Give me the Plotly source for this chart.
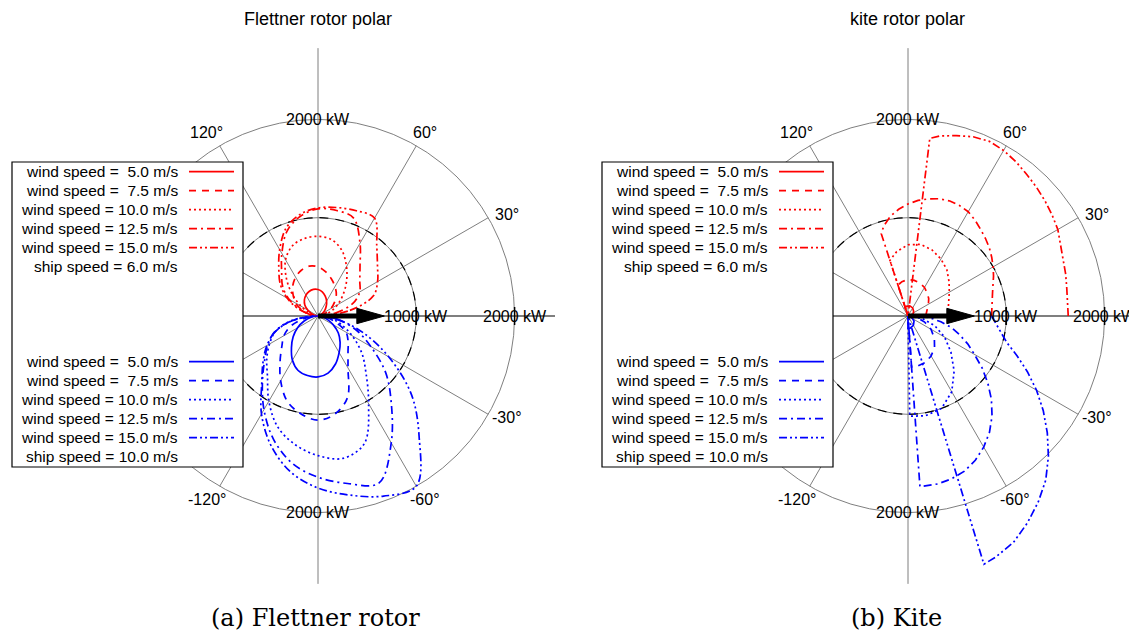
import numpy as np
import plotly.graph_objects as go

# ---------------- data (angle in degrees, power in kW) ----------------
ANG_UP = list(range(0, 181, 10))      # ship speed 6.0 m/s (upper half)
ANG_DN = list(range(0, -181, -10))    # ship speed 10.0 m/s (lower half)

WIND = ["5.0", "7.5", "10.0", "12.5", "15.0"]

# Flettner rotor, ship speed 6.0 m/s
fl6_w5 = [0, 5, 20, 50, 90, 130, 175, 215, 250, 270, 275, 265, 245, 215, 175, 120, 70, 30, 0]
fl6_w75 = [0, 30, 80, 150, 220, 290, 345, 400, 455, 500, 515, 495, 455, 400, 330, 260, 170, 80, 0]
fl6_w10 = [0, 60, 140, 230, 330, 450, 580, 710, 790, 810, 800, 760, 660, 500, 340, 200, 100, 30, 0]
fl6_w125 = [0, 180, 380, 490, 555, 665, 855, 1060, 1090, 1090, 1030, 920, 735, 575, 470, 340, 190, 70, 0]
fl6_w15 = [0, 330, 600, 700, 790, 930, 1150, 1140, 1120, 1100, 1050, 950, 780, 620, 500, 360, 210, 80, 0]

# Flettner rotor, ship speed 10.0 m/s
fl10_w5 = [0, 40, 100, 180, 270, 350, 430, 520, 590, 620, 615, 590, 520, 420, 330, 240, 150, 70, 0]
fl10_w75 = [0, 90, 200, 330, 400, 475, 610, 880, 1010, 1060, 1010, 920, 760, 600, 480, 400, 290, 140, 0]
fl10_w10 = [0, 130, 250, 400, 580, 760, 1030, 1380, 1470, 1420, 1330, 1200, 1000, 800, 680, 570, 460, 280, 0]
fl10_w125 = [0, 200, 410, 620, 900, 1160, 1490, 1810, 1730, 1640, 1520, 1330, 1100, 880, 710, 590, 470, 260, 0]
fl10_w15 = [0, 200, 480, 830, 1240, 1600, 2000, 1950, 1850, 1750, 1610, 1400, 1150, 890, 730, 600, 460, 260, 0]

# Kite, ship speed 6.0 m/s
k6_w5_ang = [0, 20, 40, 60, 80, 100, 108, 108]
k6_w5 = [40, 55, 75, 95, 105, 100, 90, 0]
k6_w75_ang = [0, 10, 20, 30, 40, 50, 60, 70, 80, 90, 100, 108, 108]
k6_w75 = [180, 190, 210, 240, 275, 305, 335, 355, 368, 372, 355, 330, 0]
k6_w10_ang = [0, 10, 20, 30, 40, 50, 60, 70, 80, 90, 100, 108, 108]
k6_w10 = [405, 415, 440, 485, 545, 615, 670, 715, 740, 725, 665, 595, 0]
k6_w125_ang = list(range(0, 106, 5)) + [108, 108]
k6_w125 = [850, 855, 865, 890, 920, 960, 1000, 1040, 1080, 1115, 1150, 1190, 1225, 1240,
           1245, 1235, 1210, 1180, 1140, 1090, 1030, 950, 880, 0]
k6_w15_ang = list(range(0, 81, 5)) + [83, 83]
k6_w15 = [1630, 1630, 1640, 1660, 1680, 1710, 1760, 1790, 1820, 1850, 1880, 1915, 1945,
          1960, 1940, 1900, 1860, 1820, 0]

# Kite, ship speed 10.0 m/s
k10_w5_ang = [0, -20, -40, -60, -80, -90, -90]
k10_w5 = [0, 40, 80, 110, 125, 125, 0]
k10_w75_ang = [0, -10, -20, -30, -40, -50, -60, -70, -80, -86, -86]
k10_w75 = [0, 90, 180, 270, 350, 420, 470, 505, 520, 520, 0]
k10_w10_ang = [0, -10, -20, -30, -40, -50, -60, -70, -80, -89, -89]
k10_w10 = [0, 150, 290, 430, 570, 730, 890, 1000, 1030, 1020, 0]
k10_w125_ang = list(range(0, -81, -5)) + [-86, -86]
k10_w125 = [120, 230, 340, 460, 560, 670, 780, 920, 1060, 1200, 1330, 1445, 1540, 1620,
            1680, 1715, 1735, 1740, 0]
k10_w15_ang = list(range(0, -71, -5)) + [-73, -73]
k10_w15 = [850, 900, 960, 1040, 1180, 1340, 1510, 1680, 1850, 2020, 2180, 2310, 2430, 2540,
           2610, 2640, 0]

SHIP = ["6.0", "10.0"]
TITLES = ["Flettner rotor polar", "kite rotor polar"]
CAPTIONS = ["(a) Flettner rotor", "(b) Kite"]
ANGLE_LABELS = [30, 60, 120, -30, -60, -120]

# ---------------- layout constants ----------------
# the page body has an 8 px default margin, so the figure is drawn 8 px smaller
PAGE_W, PAGE_H = 1137, 632
OFF = 8
W, H = PAGE_W - OFF, PAGE_H - OFF
S = 0.0983                    # px per kW
CX = [318 - OFF, 908 - OFF]   # polar centres (figure px)
CY = 316 - OFF
DOM = [(0.0, 0.5), (0.5, 1.0)]
RED, BLUE = "#ff0000", "#0000ff"
GREY = "#7f7f7f"
FONT = "Liberation Sans, Arial, Helvetica, sans-serif"
FS = 15.5
DASHES = ["solid", "7px,6px", "2px,3px", "8px,4px,2px,4px", "8px,3px,2px,3px,2px,3px"]
LW = 1.7
# where each angle label sits (label placement angle, radius in kW)
LABEL_PLACE = {30: (28.2, 2177), 60: (59.7, 2161), 120: (121.2, 2183)}


def px(xp):
    """page pixel x -> paper fraction"""
    return (xp - OFF) / W


def py(yp):
    """page pixel y (from top) -> paper fraction"""
    return 1 - (yp - OFF) / H


fig = go.Figure()


def xy(ang, p):
    a = np.radians(np.asarray(ang, dtype=float))
    p = np.asarray(p, dtype=float)
    return p * np.cos(a), p * np.sin(a)


xa = ["x", "x2"]
flett_up = [fl6_w5, fl6_w75, fl6_w10, fl6_w125, fl6_w15]
flett_dn = [fl10_w5, fl10_w75, fl10_w10, fl10_w125, fl10_w15]
kite_up = [(k6_w5_ang, k6_w5), (k6_w75_ang, k6_w75), (k6_w10_ang, k6_w10),
           (k6_w125_ang, k6_w125), (k6_w15_ang, k6_w15)]
kite_dn = [(k10_w5_ang, k10_w5), (k10_w75_ang, k10_w75), (k10_w10_ang, k10_w10),
           (k10_w125_ang, k10_w125), (k10_w15_ang, k10_w15)]

for i in range(5):
    x, y = xy(ANG_UP, flett_up[i])
    fig.add_trace(go.Scatter(x=x, y=y, mode="lines", xaxis="x", yaxis="y",
                             line=dict(color=RED, width=LW, dash=DASHES[i], shape="spline", smoothing=1.0),
                             name=f"wind speed = {WIND[i]} m/s", hoverinfo="skip"))
    x, y = xy(ANG_DN, flett_dn[i])
    fig.add_trace(go.Scatter(x=x, y=y, mode="lines", xaxis="x", yaxis="y",
                             line=dict(color=BLUE, width=LW, dash=DASHES[i], shape="spline", smoothing=1.0),
                             name=f"wind speed = {WIND[i]} m/s", hoverinfo="skip"))
    x, y = xy(*kite_up[i])
    fig.add_trace(go.Scatter(x=x, y=y, mode="lines", xaxis="x2", yaxis="y",
                             line=dict(color=RED, width=LW, dash=DASHES[i]),
                             name=f"wind speed = {WIND[i]} m/s", hoverinfo="skip"))
    x, y = xy(*kite_dn[i])
    fig.add_trace(go.Scatter(x=x, y=y, mode="lines", xaxis="x2", yaxis="y",
                             line=dict(color=BLUE, width=LW, dash=DASHES[i]),
                             name=f"wind speed = {WIND[i]} m/s", hoverinfo="skip"))

shapes = []
annotations = []

R_OUT, R_IN = 2000, 1000
AX_V, AX_H = 2725, 2411
TICK_H = 92
ARROW_START, ARROW_TIP, ARROW_HALF = 395, 675, 78

for k in range(2):
    xr, yr = xa[k], "y"
    common = dict(xref=xr, yref=yr)
    # circles
    shapes.append(dict(type="circle", x0=-R_OUT, x1=R_OUT, y0=-R_OUT, y1=R_OUT,
                       line=dict(color=GREY, width=1), layer="below", **common))
    shapes.append(dict(type="circle", x0=-R_IN, x1=R_IN, y0=-R_IN, y1=R_IN,
                       line=dict(color=GREY, width=1), layer="below", **common))
    shapes.append(dict(type="circle", x0=-R_IN, x1=R_IN, y0=-R_IN, y1=R_IN,
                       line=dict(color="black", width=1.2, dash="9px,7px"), layer="below", **common))
    # radial grid lines
    for a in [30, 60, 120, 150, 210, 240, 300, 330]:
        ex, ey = xy([a], [R_OUT])
        shapes.append(dict(type="line", x0=0, y0=0, x1=float(ex[0]), y1=float(ey[0]),
                           line=dict(color=GREY, width=1), layer="below", **common))
    # axes
    shapes.append(dict(type="line", x0=0, x1=0, y0=-AX_V, y1=AX_V,
                       line=dict(color=GREY, width=1), layer="below", **common))
    shapes.append(dict(type="line", x0=-AX_H, x1=AX_H, y0=0, y1=0,
                       line=dict(color="black", width=1.2), layer="below", **common))
    for t in [R_IN, R_OUT]:
        shapes.append(dict(type="line", x0=t, x1=t, y0=-TICK_H, y1=TICK_H,
                           line=dict(color="black", width=1.5), layer="above", **common))
    # arrow
    shapes.append(dict(type="line", x0=0, x1=ARROW_START + 20, y0=0, y1=0,
                       line=dict(color="black", width=5), layer="above", **common))
    shapes.append(dict(type="path",
                       path=f"M {ARROW_START},{-ARROW_HALF} L {ARROW_TIP},0 L {ARROW_START},{ARROW_HALF} Z",
                       fillcolor="black", line=dict(color="black", width=1), layer="above", **common))

    # power labels
    tf = dict(family=FONT, size=FS, color="black")
    lf = dict(family=FONT, size=16, color="black")
    for (lx_, ly_, txt) in [(0, R_OUT, "2000 kW"), (0, -R_OUT, "2000 kW"),
                            (R_IN, 0, "1000 kW"), (R_OUT, 0, "2000 kW")]:
        annotations.append(dict(x=lx_, y=ly_, text=txt, showarrow=False, xanchor="center",
                                yanchor="middle", font=lf, **common))
    for a in ANGLE_LABELS:
        pa, pr = LABEL_PLACE[abs(a)]
        lx, ly = xy([pa if a > 0 else -pa], [pr])
        annotations.append(dict(x=float(lx[0]), y=float(ly[0]), text=f"{a}°", showarrow=False,
                                xanchor="center", yanchor="middle", font=lf, **common))

    # titles / captions
    annotations.append(dict(x=px(CX[k] + OFF), y=py(19), xref="paper", yref="paper", text=TITLES[k],
                            showarrow=False, xanchor="center", yanchor="middle",
                            font=dict(family=FONT, size=18, color="black")))
    annotations.append(dict(x=px(CX[k] + OFF - 3 - 9 * k), y=py(618), xref="paper", yref="paper",
                            text=CAPTIONS[k], showarrow=False, xanchor="center", yanchor="middle",
                            font=dict(family="DejaVu Serif, serif", size=24, color="black")))

    # legend (drawn manually: text on the left, line sample on the right)
    off = CX[k] - CX[0]
    bx0, bx1, by0, by1 = 12 + off, 243 + off, 162, 467
    shapes.append(dict(type="rect", xref="paper", yref="paper",
                       x0=px(bx0), x1=px(bx1), y0=py(by1), y1=py(by0),
                       fillcolor="white", line=dict(color="black", width=1.2), layer="above"))
    groups = [(RED, 171.7, SHIP[0]), (BLUE, 361.7, SHIP[1])]
    for color, ytop, ship in groups:
        for i in range(6):
            yy = ytop + i * 19.0
            if i < 5:
                sp = "\u00a0\u00a0" if len(WIND[i]) == 3 else " "
                txt = f"wind speed ={sp}{WIND[i]} m/s"
                shapes.append(dict(type="line", xref="paper", yref="paper",
                                   x0=px(189 + off), x1=px(234 + off),
                                   y0=py(yy), y1=py(yy),
                                   line=dict(color=color, width=LW, dash=DASHES[i]), layer="above"))
            else:
                txt = f"ship speed = {ship} m/s"
            annotations.append(dict(x=px(180 + off), y=py(yy), xref="paper", yref="paper",
                                    text=txt, showarrow=False, xanchor="right", yanchor="middle",
                                    font=tf))


def xrange_for(k):
    d0, d1 = DOM[k][0] * W, DOM[k][1] * W
    return [(d0 - CX[k]) / S, (d1 - CX[k]) / S]


fig.update_layout(
    width=W, height=H,
    margin=dict(l=0, r=0, t=0, b=0),
    paper_bgcolor="white", plot_bgcolor="white",
    showlegend=False,
    xaxis=dict(domain=list(DOM[0]), range=xrange_for(0), visible=False, fixedrange=True),
    xaxis2=dict(domain=list(DOM[1]), range=xrange_for(1), visible=False, fixedrange=True, anchor="y"),
    yaxis=dict(domain=[0, 1], range=[-(H - CY) / S, CY / S], visible=False, fixedrange=True),
    shapes=shapes,
    annotations=annotations,
    font=dict(family=FONT),
)

fig.write_html("out.html")
